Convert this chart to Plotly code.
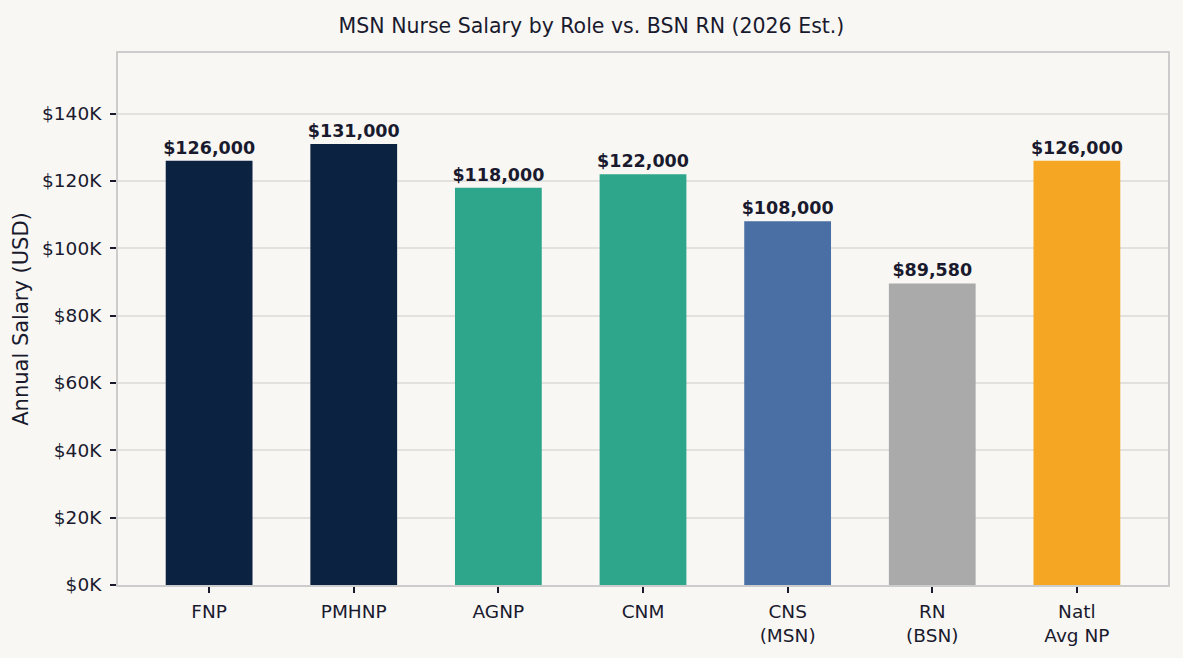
import plotly.graph_objects as go

# Chart data
roles = ["FNP", "PMHNP", "AGNP", "CNM", "CNS<br>(MSN)", "RN<br>(BSN)", "Natl<br>Avg NP"]
salaries = [126000, 131000, 118000, 122000, 108000, 89580, 126000]
bar_colors = ["#0B2341", "#0B2341", "#2EA68C", "#2EA68C", "#4A6FA5", "#AAAAAA", "#F5A623"]
y_ticks = [0, 20000, 40000, 60000, 80000, 100000, 120000, 140000]
y_tick_labels = ["$0K", "$20K", "$40K", "$60K", "$80K", "$100K", "$120K", "$140K"]

text_color = "#1A1A2E"
bg = "#F8F7F4"

trace = go.Bar(
    x=list(range(len(roles))),
    y=salaries,
    width=0.6,
    marker=dict(color=bar_colors, line=dict(width=0)),
    text=["<b>${:,}</b>".format(v) for v in salaries],
    textposition="outside",
    constraintext="none",
    textfont=dict(size=17.5, color=text_color, family="DejaVu Sans"),
    cliponaxis=False,
    hoverinfo="skip",
)

layout = go.Layout(
    width=1183,
    height=658,
    paper_bgcolor=bg,
    plot_bgcolor=bg,
    font=dict(family="DejaVu Sans", color=text_color, size=18),
    title=dict(text="MSN Nurse Salary by Role vs. BSN RN (2026 Est.)",
               x=0.5, xanchor="center", y=0.96, yanchor="middle",
               font=dict(size=20.5, color=text_color)),
    margin=dict(l=118, r=15, t=53, b=69),
    showlegend=False,
    xaxis=dict(
        tickmode="array",
        tickvals=list(range(len(roles))),
        ticktext=roles,
        range=[-0.63, 6.63],
        showgrid=False,
        zeroline=False,
        showline=True, linecolor="#CCCCCC", linewidth=2, mirror=True,
        ticks="outside", ticklen=6, tickwidth=2, tickcolor=text_color,
        ticklabelstandoff=3,
        tickfont=dict(size=18.5, color=text_color),
    ),
    yaxis=dict(
        title=dict(text="Annual Salary (USD)", font=dict(size=21, color=text_color), standoff=8),
        range=[0, 158000],
        tickmode="array",
        tickvals=y_ticks,
        ticktext=y_tick_labels,
        showgrid=True, gridcolor="#E3E1DD", gridwidth=1.5,
        zeroline=False,
        showline=True, linecolor="#CCCCCC", linewidth=2, mirror=True,
        ticks="outside", ticklen=6, tickwidth=2, tickcolor=text_color,
        ticklabelstandoff=5,
        tickfont=dict(size=18.5, color=text_color),
    ),
)

fig = go.Figure(data=[trace], layout=layout)
# drop the page's default body margin so the figure fills the window
fig.write_html("out.html", config={"displayModeBar": False},
               post_script="document.body.style.margin='0';document.body.style.background='#F8F7F4';")
